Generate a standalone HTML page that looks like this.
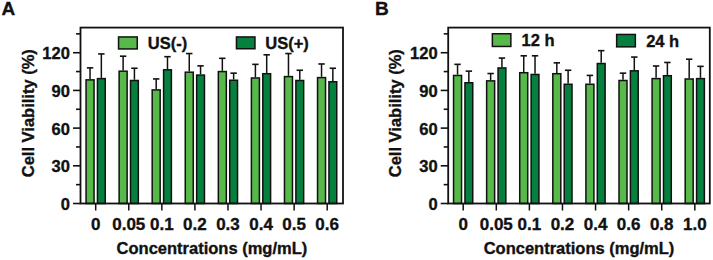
<!DOCTYPE html>
<html><head><meta charset="utf-8"><style>
html,body{margin:0;padding:0;background:#fff;}
body{width:713px;height:260px;overflow:hidden;}
svg{display:block;}
text{font-family:"Liberation Sans",sans-serif;font-weight:bold;fill:#111;stroke:#111;stroke-width:0.35px;}
</style></head><body>
<svg width="713" height="260" viewBox="0 0 713 260">
<line x1="90.05" y1="79.11" x2="90.05" y2="67.87" stroke="#111" stroke-width="1.5"/>
<line x1="86.85" y1="67.87" x2="93.25" y2="67.87" stroke="#111" stroke-width="1.6"/>
<rect x="86.05" y="79.86" width="8.00" height="123.64" fill="#57b94a" stroke="#111" stroke-width="1.5"/>
<line x1="101.35" y1="77.85" x2="101.35" y2="53.93" stroke="#111" stroke-width="1.5"/>
<line x1="98.15" y1="53.93" x2="104.55" y2="53.93" stroke="#111" stroke-width="1.6"/>
<rect x="97.45" y="78.60" width="7.80" height="124.90" fill="#06803f" stroke="#111" stroke-width="1.5"/>
<line x1="95.70" y1="203.50" x2="95.70" y2="210.50" stroke="#111" stroke-width="1.5"/>
<text x="95.70" y="229.6" text-anchor="middle" font-size="17">0</text>
<line x1="123.12" y1="70.44" x2="123.12" y2="56.19" stroke="#111" stroke-width="1.5"/>
<line x1="119.92" y1="56.19" x2="126.32" y2="56.19" stroke="#111" stroke-width="1.6"/>
<rect x="119.12" y="71.19" width="8.00" height="132.31" fill="#57b94a" stroke="#111" stroke-width="1.5"/>
<line x1="134.42" y1="79.74" x2="134.42" y2="68.25" stroke="#111" stroke-width="1.5"/>
<line x1="131.22" y1="68.25" x2="137.62" y2="68.25" stroke="#111" stroke-width="1.6"/>
<rect x="130.52" y="80.49" width="7.80" height="123.01" fill="#06803f" stroke="#111" stroke-width="1.5"/>
<line x1="128.77" y1="203.50" x2="128.77" y2="210.50" stroke="#111" stroke-width="1.5"/>
<text x="128.77" y="229.6" text-anchor="middle" font-size="17">0.05</text>
<line x1="156.19" y1="89.16" x2="156.19" y2="78.93" stroke="#111" stroke-width="1.5"/>
<line x1="152.99" y1="78.93" x2="159.39" y2="78.93" stroke="#111" stroke-width="1.6"/>
<rect x="152.19" y="89.91" width="8.00" height="113.59" fill="#57b94a" stroke="#111" stroke-width="1.5"/>
<line x1="167.49" y1="69.06" x2="167.49" y2="56.69" stroke="#111" stroke-width="1.5"/>
<line x1="164.29" y1="56.69" x2="170.69" y2="56.69" stroke="#111" stroke-width="1.6"/>
<rect x="163.59" y="69.81" width="7.80" height="133.69" fill="#06803f" stroke="#111" stroke-width="1.5"/>
<line x1="161.84" y1="203.50" x2="161.84" y2="210.50" stroke="#111" stroke-width="1.5"/>
<text x="161.84" y="229.6" text-anchor="middle" font-size="17">0.1</text>
<line x1="189.26" y1="71.44" x2="189.26" y2="53.55" stroke="#111" stroke-width="1.5"/>
<line x1="186.06" y1="53.55" x2="192.46" y2="53.55" stroke="#111" stroke-width="1.6"/>
<rect x="185.26" y="72.19" width="8.00" height="131.31" fill="#57b94a" stroke="#111" stroke-width="1.5"/>
<line x1="200.56" y1="74.33" x2="200.56" y2="65.86" stroke="#111" stroke-width="1.5"/>
<line x1="197.36" y1="65.86" x2="203.76" y2="65.86" stroke="#111" stroke-width="1.6"/>
<rect x="196.66" y="75.08" width="7.80" height="128.42" fill="#06803f" stroke="#111" stroke-width="1.5"/>
<line x1="194.91" y1="203.50" x2="194.91" y2="210.50" stroke="#111" stroke-width="1.5"/>
<text x="194.91" y="229.6" text-anchor="middle" font-size="17">0.2</text>
<line x1="222.33" y1="70.82" x2="222.33" y2="58.32" stroke="#111" stroke-width="1.5"/>
<line x1="219.13" y1="58.32" x2="225.53" y2="58.32" stroke="#111" stroke-width="1.6"/>
<rect x="218.33" y="71.57" width="8.00" height="131.93" fill="#57b94a" stroke="#111" stroke-width="1.5"/>
<line x1="233.63" y1="79.49" x2="233.63" y2="73.15" stroke="#111" stroke-width="1.5"/>
<line x1="230.43" y1="73.15" x2="236.83" y2="73.15" stroke="#111" stroke-width="1.6"/>
<rect x="229.73" y="80.24" width="7.80" height="123.26" fill="#06803f" stroke="#111" stroke-width="1.5"/>
<line x1="227.98" y1="203.50" x2="227.98" y2="210.50" stroke="#111" stroke-width="1.5"/>
<text x="227.98" y="229.6" text-anchor="middle" font-size="17">0.3</text>
<line x1="255.40" y1="77.22" x2="255.40" y2="64.35" stroke="#111" stroke-width="1.5"/>
<line x1="252.20" y1="64.35" x2="258.60" y2="64.35" stroke="#111" stroke-width="1.6"/>
<rect x="251.40" y="77.97" width="8.00" height="125.53" fill="#57b94a" stroke="#111" stroke-width="1.5"/>
<line x1="266.70" y1="72.95" x2="266.70" y2="54.80" stroke="#111" stroke-width="1.5"/>
<line x1="263.50" y1="54.80" x2="269.90" y2="54.80" stroke="#111" stroke-width="1.6"/>
<rect x="262.80" y="73.70" width="7.80" height="129.80" fill="#06803f" stroke="#111" stroke-width="1.5"/>
<line x1="261.05" y1="203.50" x2="261.05" y2="210.50" stroke="#111" stroke-width="1.5"/>
<text x="261.05" y="229.6" text-anchor="middle" font-size="17">0.4</text>
<line x1="288.47" y1="75.84" x2="288.47" y2="53.55" stroke="#111" stroke-width="1.5"/>
<line x1="285.27" y1="53.55" x2="291.67" y2="53.55" stroke="#111" stroke-width="1.6"/>
<rect x="284.47" y="76.59" width="8.00" height="126.91" fill="#57b94a" stroke="#111" stroke-width="1.5"/>
<line x1="299.77" y1="79.74" x2="299.77" y2="70.26" stroke="#111" stroke-width="1.5"/>
<line x1="296.57" y1="70.26" x2="302.97" y2="70.26" stroke="#111" stroke-width="1.6"/>
<rect x="295.87" y="80.49" width="7.80" height="123.01" fill="#06803f" stroke="#111" stroke-width="1.5"/>
<line x1="294.12" y1="203.50" x2="294.12" y2="210.50" stroke="#111" stroke-width="1.5"/>
<text x="294.12" y="229.6" text-anchor="middle" font-size="17">0.5</text>
<line x1="321.54" y1="76.85" x2="321.54" y2="63.98" stroke="#111" stroke-width="1.5"/>
<line x1="318.34" y1="63.98" x2="324.74" y2="63.98" stroke="#111" stroke-width="1.6"/>
<rect x="317.54" y="77.60" width="8.00" height="125.90" fill="#57b94a" stroke="#111" stroke-width="1.5"/>
<line x1="332.84" y1="80.99" x2="332.84" y2="68.25" stroke="#111" stroke-width="1.5"/>
<line x1="329.64" y1="68.25" x2="336.04" y2="68.25" stroke="#111" stroke-width="1.6"/>
<rect x="328.94" y="81.74" width="7.80" height="121.76" fill="#06803f" stroke="#111" stroke-width="1.5"/>
<line x1="327.19" y1="203.50" x2="327.19" y2="210.50" stroke="#111" stroke-width="1.5"/>
<text x="327.19" y="229.6" text-anchor="middle" font-size="17">0.6</text>
<line x1="73.00" y1="203.50" x2="80.50" y2="203.50" stroke="#111" stroke-width="1.6"/>
<text x="69.90" y="210.00" text-anchor="end" font-size="16.5">0</text>
<line x1="76.00" y1="184.65" x2="80.50" y2="184.65" stroke="#111" stroke-width="1.6"/>
<line x1="73.00" y1="165.81" x2="80.50" y2="165.81" stroke="#111" stroke-width="1.6"/>
<text x="69.90" y="172.31" text-anchor="end" font-size="16.5">30</text>
<line x1="76.00" y1="146.96" x2="80.50" y2="146.96" stroke="#111" stroke-width="1.6"/>
<line x1="73.00" y1="128.11" x2="80.50" y2="128.11" stroke="#111" stroke-width="1.6"/>
<text x="69.90" y="134.61" text-anchor="end" font-size="16.5">60</text>
<line x1="76.00" y1="109.26" x2="80.50" y2="109.26" stroke="#111" stroke-width="1.6"/>
<line x1="73.00" y1="90.42" x2="80.50" y2="90.42" stroke="#111" stroke-width="1.6"/>
<text x="69.90" y="96.92" text-anchor="end" font-size="16.5">90</text>
<line x1="76.00" y1="71.57" x2="80.50" y2="71.57" stroke="#111" stroke-width="1.6"/>
<line x1="73.00" y1="52.72" x2="80.50" y2="52.72" stroke="#111" stroke-width="1.6"/>
<text x="69.90" y="59.22" text-anchor="end" font-size="16.5">120</text>
<line x1="76.00" y1="33.87" x2="80.50" y2="33.87" stroke="#111" stroke-width="1.6"/>
<rect x="80.50" y="27.59" width="262.50" height="175.91" fill="none" stroke="#111" stroke-width="1.8"/>
<text transform="translate(33.80,113.2) rotate(-90)" text-anchor="middle" font-size="16.5">Cell Viability (%)</text>
<text x="211.90" y="253.9" text-anchor="middle" font-size="16.5">Concentrations (mg/mL)</text>
<rect x="118.55" y="36.95" width="18.70" height="12.00" fill="#57b94a" stroke="#111" stroke-width="1.5"/>
<text x="147.80" y="48.90" font-size="16.5">US(-)</text>
<rect x="236.45" y="36.95" width="18.50" height="11.80" fill="#06803f" stroke="#111" stroke-width="1.5"/>
<text x="265.30" y="48.90" font-size="16.5">US(+)</text>
<line x1="457.55" y1="74.71" x2="457.55" y2="64.35" stroke="#111" stroke-width="1.5"/>
<line x1="454.35" y1="64.35" x2="460.75" y2="64.35" stroke="#111" stroke-width="1.6"/>
<rect x="453.55" y="75.46" width="8.00" height="128.04" fill="#57b94a" stroke="#111" stroke-width="1.5"/>
<line x1="468.85" y1="82.00" x2="468.85" y2="71.14" stroke="#111" stroke-width="1.5"/>
<line x1="465.65" y1="71.14" x2="472.05" y2="71.14" stroke="#111" stroke-width="1.6"/>
<rect x="464.95" y="82.75" width="7.80" height="120.75" fill="#06803f" stroke="#111" stroke-width="1.5"/>
<line x1="463.20" y1="203.50" x2="463.20" y2="210.50" stroke="#111" stroke-width="1.5"/>
<text x="463.20" y="229.6" text-anchor="middle" font-size="17">0</text>
<line x1="490.64" y1="80.11" x2="490.64" y2="73.53" stroke="#111" stroke-width="1.5"/>
<line x1="487.44" y1="73.53" x2="493.84" y2="73.53" stroke="#111" stroke-width="1.6"/>
<rect x="486.64" y="80.86" width="8.00" height="122.64" fill="#57b94a" stroke="#111" stroke-width="1.5"/>
<line x1="501.94" y1="67.17" x2="501.94" y2="58.07" stroke="#111" stroke-width="1.5"/>
<line x1="498.74" y1="58.07" x2="505.14" y2="58.07" stroke="#111" stroke-width="1.6"/>
<rect x="498.04" y="67.92" width="7.80" height="135.58" fill="#06803f" stroke="#111" stroke-width="1.5"/>
<line x1="496.29" y1="203.50" x2="496.29" y2="210.50" stroke="#111" stroke-width="1.5"/>
<text x="496.29" y="229.6" text-anchor="middle" font-size="17">0.05</text>
<line x1="523.73" y1="71.95" x2="523.73" y2="55.81" stroke="#111" stroke-width="1.5"/>
<line x1="520.53" y1="55.81" x2="526.93" y2="55.81" stroke="#111" stroke-width="1.6"/>
<rect x="519.73" y="72.70" width="8.00" height="130.80" fill="#57b94a" stroke="#111" stroke-width="1.5"/>
<line x1="535.03" y1="73.71" x2="535.03" y2="55.81" stroke="#111" stroke-width="1.5"/>
<line x1="531.83" y1="55.81" x2="538.23" y2="55.81" stroke="#111" stroke-width="1.6"/>
<rect x="531.13" y="74.46" width="7.80" height="129.04" fill="#06803f" stroke="#111" stroke-width="1.5"/>
<line x1="529.38" y1="203.50" x2="529.38" y2="210.50" stroke="#111" stroke-width="1.5"/>
<text x="529.38" y="229.6" text-anchor="middle" font-size="17">0.1</text>
<line x1="556.82" y1="72.95" x2="556.82" y2="62.85" stroke="#111" stroke-width="1.5"/>
<line x1="553.62" y1="62.85" x2="560.02" y2="62.85" stroke="#111" stroke-width="1.6"/>
<rect x="552.82" y="73.70" width="8.00" height="129.80" fill="#57b94a" stroke="#111" stroke-width="1.5"/>
<line x1="568.12" y1="83.51" x2="568.12" y2="70.26" stroke="#111" stroke-width="1.5"/>
<line x1="564.92" y1="70.26" x2="571.32" y2="70.26" stroke="#111" stroke-width="1.6"/>
<rect x="564.22" y="84.26" width="7.80" height="119.24" fill="#06803f" stroke="#111" stroke-width="1.5"/>
<line x1="562.47" y1="203.50" x2="562.47" y2="210.50" stroke="#111" stroke-width="1.5"/>
<text x="562.47" y="229.6" text-anchor="middle" font-size="17">0.2</text>
<line x1="589.91" y1="83.51" x2="589.91" y2="75.41" stroke="#111" stroke-width="1.5"/>
<line x1="586.71" y1="75.41" x2="593.11" y2="75.41" stroke="#111" stroke-width="1.6"/>
<rect x="585.91" y="84.26" width="8.00" height="119.24" fill="#57b94a" stroke="#111" stroke-width="1.5"/>
<line x1="601.21" y1="62.77" x2="601.21" y2="50.66" stroke="#111" stroke-width="1.5"/>
<line x1="598.01" y1="50.66" x2="604.41" y2="50.66" stroke="#111" stroke-width="1.6"/>
<rect x="597.31" y="63.52" width="7.80" height="139.98" fill="#06803f" stroke="#111" stroke-width="1.5"/>
<line x1="595.56" y1="203.50" x2="595.56" y2="210.50" stroke="#111" stroke-width="1.5"/>
<text x="595.56" y="229.6" text-anchor="middle" font-size="17">0.4</text>
<line x1="623.00" y1="79.74" x2="623.00" y2="73.15" stroke="#111" stroke-width="1.5"/>
<line x1="619.80" y1="73.15" x2="626.20" y2="73.15" stroke="#111" stroke-width="1.6"/>
<rect x="619.00" y="80.49" width="8.00" height="123.01" fill="#57b94a" stroke="#111" stroke-width="1.5"/>
<line x1="634.30" y1="70.06" x2="634.30" y2="57.07" stroke="#111" stroke-width="1.5"/>
<line x1="631.10" y1="57.07" x2="637.50" y2="57.07" stroke="#111" stroke-width="1.6"/>
<rect x="630.40" y="70.81" width="7.80" height="132.69" fill="#06803f" stroke="#111" stroke-width="1.5"/>
<line x1="628.65" y1="203.50" x2="628.65" y2="210.50" stroke="#111" stroke-width="1.5"/>
<text x="628.65" y="229.6" text-anchor="middle" font-size="17">0.6</text>
<line x1="656.09" y1="77.85" x2="656.09" y2="65.99" stroke="#111" stroke-width="1.5"/>
<line x1="652.89" y1="65.99" x2="659.29" y2="65.99" stroke="#111" stroke-width="1.6"/>
<rect x="652.09" y="78.60" width="8.00" height="124.90" fill="#57b94a" stroke="#111" stroke-width="1.5"/>
<line x1="667.39" y1="74.96" x2="667.39" y2="62.47" stroke="#111" stroke-width="1.5"/>
<line x1="664.19" y1="62.47" x2="670.59" y2="62.47" stroke="#111" stroke-width="1.6"/>
<rect x="663.49" y="75.71" width="7.80" height="127.79" fill="#06803f" stroke="#111" stroke-width="1.5"/>
<line x1="661.74" y1="203.50" x2="661.74" y2="210.50" stroke="#111" stroke-width="1.5"/>
<text x="661.74" y="229.6" text-anchor="middle" font-size="17">0.8</text>
<line x1="689.18" y1="78.23" x2="689.18" y2="59.20" stroke="#111" stroke-width="1.5"/>
<line x1="685.98" y1="59.20" x2="692.38" y2="59.20" stroke="#111" stroke-width="1.6"/>
<rect x="685.18" y="78.98" width="8.00" height="124.52" fill="#57b94a" stroke="#111" stroke-width="1.5"/>
<line x1="700.48" y1="77.85" x2="700.48" y2="66.36" stroke="#111" stroke-width="1.5"/>
<line x1="697.28" y1="66.36" x2="703.68" y2="66.36" stroke="#111" stroke-width="1.6"/>
<rect x="696.58" y="78.60" width="7.80" height="124.90" fill="#06803f" stroke="#111" stroke-width="1.5"/>
<line x1="694.83" y1="203.50" x2="694.83" y2="210.50" stroke="#111" stroke-width="1.5"/>
<text x="694.83" y="229.6" text-anchor="middle" font-size="17">1.0</text>
<line x1="440.70" y1="203.50" x2="448.20" y2="203.50" stroke="#111" stroke-width="1.6"/>
<text x="437.60" y="210.00" text-anchor="end" font-size="16.5">0</text>
<line x1="443.70" y1="184.65" x2="448.20" y2="184.65" stroke="#111" stroke-width="1.6"/>
<line x1="440.70" y1="165.81" x2="448.20" y2="165.81" stroke="#111" stroke-width="1.6"/>
<text x="437.60" y="172.31" text-anchor="end" font-size="16.5">30</text>
<line x1="443.70" y1="146.96" x2="448.20" y2="146.96" stroke="#111" stroke-width="1.6"/>
<line x1="440.70" y1="128.11" x2="448.20" y2="128.11" stroke="#111" stroke-width="1.6"/>
<text x="437.60" y="134.61" text-anchor="end" font-size="16.5">60</text>
<line x1="443.70" y1="109.26" x2="448.20" y2="109.26" stroke="#111" stroke-width="1.6"/>
<line x1="440.70" y1="90.42" x2="448.20" y2="90.42" stroke="#111" stroke-width="1.6"/>
<text x="437.60" y="96.92" text-anchor="end" font-size="16.5">90</text>
<line x1="443.70" y1="71.57" x2="448.20" y2="71.57" stroke="#111" stroke-width="1.6"/>
<line x1="440.70" y1="52.72" x2="448.20" y2="52.72" stroke="#111" stroke-width="1.6"/>
<text x="437.60" y="59.22" text-anchor="end" font-size="16.5">120</text>
<line x1="443.70" y1="33.87" x2="448.20" y2="33.87" stroke="#111" stroke-width="1.6"/>
<rect x="448.20" y="27.59" width="261.60" height="175.91" fill="none" stroke="#111" stroke-width="1.8"/>
<text transform="translate(401.10,113.2) rotate(-90)" text-anchor="middle" font-size="16.5">Cell Viability (%)</text>
<text x="579.00" y="253.9" text-anchor="middle" font-size="16.5">Concentrations (mg/mL)</text>
<rect x="492.35" y="33.75" width="18.50" height="12.70" fill="#57b94a" stroke="#111" stroke-width="1.5"/>
<text x="521.50" y="45.90" font-size="16.5">12 h</text>
<rect x="616.65" y="34.45" width="18.70" height="12.40" fill="#06803f" stroke="#111" stroke-width="1.5"/>
<text x="646.20" y="46.60" font-size="16.5">24 h</text>
<text x="1.5" y="14.9" font-size="19">A</text>
<text x="374.9" y="15.1" font-size="19">B</text>
</svg>
</body></html>
